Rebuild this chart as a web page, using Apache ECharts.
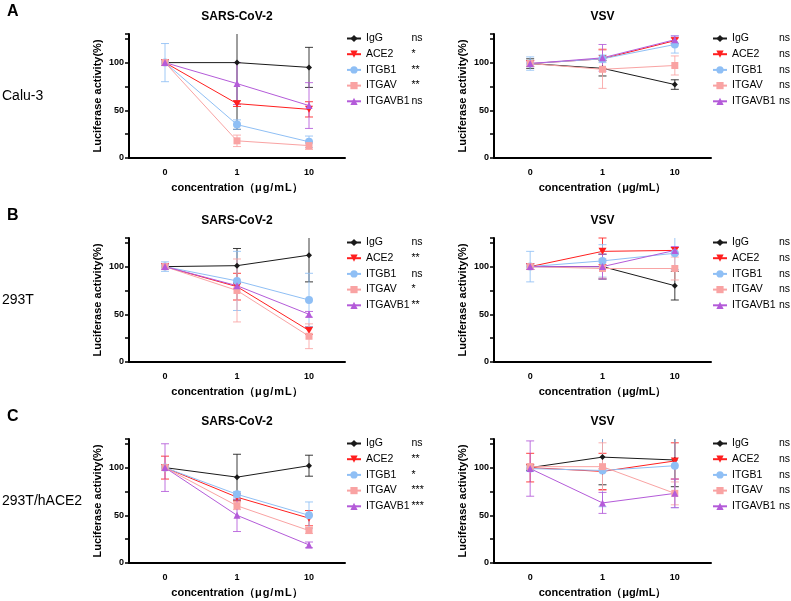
<!DOCTYPE html>
<html>
<head>
<meta charset="utf-8">
<script src="https://cdn.jsdelivr.net/npm/echarts@6/dist/echarts.min.js"></script>
<style>html,body{margin:0;padding:0;background:#fff}#c{width:791px;height:601px}</style>
</head>
<body>
<div id="c"></div>
<script>
// ---------- data ----------
const categories = ['0', '1', '10'];
const seriesNames = ['IgG', 'ACE2', 'ITGB1', 'ITGAV', 'ITGAVB1'];
const yTickLabels = [0, 50, 100];

// A: Calu-3
const calu3SarsMean = [[100, 100, 95], [100, 57, 51], [100, 35, 17], [100, 18, 13], [100, 78, 55]];
const calu3SarsErr  = [[3, 70, 21], [3, 3, 8], [20, 5, 6], [3, 6, 4], [3, 22, 24]];
const calu3SarsSig  = ['ns', '*', '**', '**', 'ns'];
const calu3VsvMean  = [[99, 94, 77], [99, 104, 123], [99, 104, 119], [99, 93, 97], [99, 105, 124]];
const calu3VsvErr   = [[5, 8, 5], [3, 10, 3], [7, 4, 9], [3, 20, 10], [3, 14, 4]];
const calu3VsvSig   = ['ns', 'ns', 'ns', 'ns', 'ns'];

// B: 293T
const t293SarsMean = [[100, 101, 112], [100, 79, 33], [100, 85, 65], [100, 75, 27], [100, 80, 50]];
const t293SarsErr  = [[3, 18, 28], [3, 14, 4], [5, 31, 28], [3, 33, 13], [3, 3, 3]];
const t293SarsSig  = ['ns', '**', 'ns', '*', '**'];
const t293VsvMean  = [[100, 100, 80], [100, 116, 117], [100, 106, 114], [100, 98, 98], [100, 100, 117]];
const t293VsvErr   = [[3, 13, 15], [3, 14, 3], [16, 17, 17], [3, 10, 12], [3, 13, 4]];
const t293VsvSig   = ['ns', 'ns', 'ns', 'ns', 'ns'];

// C: 293T/hACE2
const hace2SarsMean = [[100, 90, 102], [100, 69, 47], [100, 72, 50], [100, 60, 34], [100, 50, 19]];
const hace2SarsErr  = [[3, 24, 11], [12, 4, 8], [3, 3, 14], [3, 4, 3], [25, 17, 3]];
const hace2SarsSig  = ['ns', '**', '*', '***', '***'];
const hace2VsvMean  = [[100, 111, 108], [100, 96, 107], [99, 97, 102], [101, 101, 73], [99, 63, 73]];
const hace2VsvErr   = [[3, 29, 28], [15, 19, 19], [3, 38, 44], [3, 25, 12], [29, 11, 15]];
const hace2VsvSig   = ['ns', 'ns', 'ns', 'ns', 'ns'];

const rowLabels = ['Calu-3', '293T', '293T/hACE2'];
const rowLetters = ['A', 'B', 'C'];

// ---------- styling ----------
const Y_MAX = 130;
const SANS = "'Liberation Sans', Arial, sans-serif";
const colors = ['#1a1a1a', '#ff1f1f', '#8fbff5', '#f9a3a3', '#b45bd9'];
const symbols = ['diamond', 'path://M0,0L10,0L5,9Z', 'circle', 'rect', 'triangle'];
const symbolSizes = [6, [8, 7], 8, 7, 7];
const sarsXName = 'concentration（μ\u200Ag\u200A/\u200Am\u200AL）';
const vsvXName = 'concentration（μg/mL）';

const panels = [
  { mean: calu3SarsMean, err: calu3SarsErr, sig: calu3SarsSig, title: 'SARS-CoV-2', xName: sarsXName, left: 129, top: 34, width: 216, legLeft: 346, nameW: 45.5 },
  { mean: calu3VsvMean,  err: calu3VsvErr,  sig: calu3VsvSig,  title: 'VSV',        xName: vsvXName,  left: 494, top: 34, width: 217, legLeft: 712, nameW: 47 },
  { mean: t293SarsMean,  err: t293SarsErr,  sig: t293SarsSig,  title: 'SARS-CoV-2', xName: sarsXName, left: 129, top: 238, width: 216, legLeft: 346, nameW: 45.5 },
  { mean: t293VsvMean,   err: t293VsvErr,   sig: t293VsvSig,   title: 'VSV',        xName: vsvXName,  left: 494, top: 238, width: 217, legLeft: 712, nameW: 47 },
  { mean: hace2SarsMean, err: hace2SarsErr, sig: hace2SarsSig, title: 'SARS-CoV-2', xName: sarsXName, left: 129, top: 439, width: 216, legLeft: 346, nameW: 45.5 },
  { mean: hace2VsvMean,  err: hace2VsvErr,  sig: hace2VsvSig,  title: 'VSV',        xName: vsvXName,  left: 494, top: 439, width: 217, legLeft: 712, nameW: 47 }
];
const GRID_H = 124;

function errRender(params, api) {
  const x = api.value(0), lo = api.value(1), hi = api.value(2);
  const topV = Math.min(hi, Y_MAX);
  const pLo = api.coord([x, lo]);
  const pHi = api.coord([x, topV]);
  const w = 4;
  const style = { stroke: api.visual('color'), lineWidth: 1, opacity: 0.85 };
  const ch = [
    { type: 'line', shape: { x1: pLo[0], y1: pLo[1], x2: pHi[0], y2: pHi[1] }, style },
    { type: 'line', shape: { x1: pLo[0] - w, y1: pLo[1], x2: pLo[0] + w, y2: pLo[1] }, style }
  ];
  if (hi <= Y_MAX) ch.push({ type: 'line', shape: { x1: pHi[0] - w, y1: pHi[1], x2: pHi[0] + w, y2: pHi[1] }, style });
  return { type: 'group', children: ch };
}

const grid = [], xAxis = [], yAxis = [], series = [], legend = [], title = [];

panels.forEach((p, i) => {
  grid.push({ left: p.left, top: p.top, width: p.width, height: GRID_H });
  xAxis.push({
    type: 'category', gridIndex: i, data: categories, boundaryGap: true,
    axisLine: { lineStyle: { color: '#000', width: 2 } },
    axisTick: { alignWithLabel: true, length: 4, lineStyle: { color: '#000', width: 1.5 } },
    axisLabel: { color: '#000', fontWeight: 'bold', fontSize: 9, fontFamily: SANS, margin: 10 },
    name: p.xName, nameLocation: 'middle', nameGap: 24,
    nameTextStyle: { color: '#000', fontWeight: 'bold', fontSize: 11, fontFamily: SANS },
    splitLine: { show: false }
  });
  yAxis.push({
    type: 'value', gridIndex: i, min: 0, max: Y_MAX, interval: 25,
    axisLine: { show: true, lineStyle: { color: '#000', width: 2 } },
    axisTick: { show: true, length: 4, lineStyle: { color: '#000', width: 1.5 } },
    axisLabel: { color: '#000', fontWeight: 'bold', fontSize: 9, fontFamily: SANS, margin: 5,
      formatter: v => (yTickLabels.indexOf(v) >= 0 ? String(v) : '') },
    splitLine: { show: false },
    name: 'Luciferase activity(%)', nameLocation: 'middle', nameGap: 26,
    nameTextStyle: { color: '#000', fontWeight: 'bold', fontSize: 11, fontFamily: SANS }
  });
  seriesNames.forEach((nm, j) => {
    series.push({
      type: 'custom', xAxisIndex: i, yAxisIndex: i, renderItem: errRender,
      itemStyle: { color: colors[j] }, encode: { x: 0, y: [1, 2] }, silent: true, z: 2,
      data: p.mean[j].map((m, k) => [k, m - p.err[j][k], m + p.err[j][k]])
    });
  });
  seriesNames.forEach((nm, j) => {
    series.push({
      type: 'line', name: nm, xAxisIndex: i, yAxisIndex: i, data: p.mean[j],
      symbol: symbols[j], symbolSize: symbolSizes[j], showAllSymbol: true,
      itemStyle: { color: colors[j] }, lineStyle: { color: colors[j], width: 1 },
      z: 3, animation: false
    });
  });
  const sig = p.sig;
  legend.push({
    orient: 'vertical', left: p.legLeft, top: p.top - 1, padding: 0,
    itemWidth: 14, itemHeight: 9, itemGap: 4.7,
    selectedMode: false, data: seriesNames,
    formatter: name => '{n|' + name + '}{s|' + sig[seriesNames.indexOf(name)] + '}',
    textStyle: { color: '#000', fontSize: 10.5, fontFamily: SANS,
      rich: { n: { width: p.nameW, fontSize: 10.5, lineHeight: 12, fontFamily: SANS, color: '#000' },
              s: { fontSize: 10.5, lineHeight: 12, fontFamily: SANS, color: '#000' } } }
  });
  title.push({
    text: p.title, left: p.left + p.width / 2, top: p.top - 23, textAlign: 'center', padding: 0,
    textStyle: { color: '#000', fontWeight: 'bold', fontSize: 12, fontFamily: SANS }
  });
});

const rowTops = [34, 238, 439];
rowLetters.forEach((L, r) => {
  title.push({ text: L, left: 7, top: rowTops[r] - 30, padding: 0,
    textStyle: { color: '#000', fontWeight: 'bold', fontSize: 16, fontFamily: SANS } });
  title.push({ text: rowLabels[r], left: 2, top: rowTops[r] + 55, padding: 0,
    textStyle: { color: '#000', fontWeight: 'normal', fontSize: 14, fontFamily: SANS } });
});

const chart = echarts.init(document.getElementById('c'), null, { renderer: 'canvas' });
chart.setOption({ animation: false, backgroundColor: '#fff', title, grid, xAxis, yAxis, legend, series });
</script>
</body>
</html>
